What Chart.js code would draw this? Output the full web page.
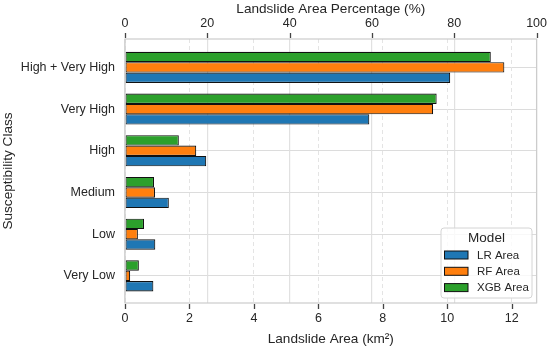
<!DOCTYPE html>
<html>
<head>
<meta charset="utf-8">
<script src="https://cdn.jsdelivr.net/npm/chart.js@4.4.1/dist/chart.umd.min.js"></script>
<style>
  html, body { margin: 0; padding: 0; background: #fff; }
  #wrap { width: 550px; height: 349px; }
</style>
</head>
<body>
<div id="wrap"><canvas id="chart" width="550" height="349"></canvas></div>
<script>
// data (km²)
const categories = ['High + Very High', 'Very High', 'High', 'Medium', 'Low', 'Very Low'];
const lrArea  = [10.09, 7.58, 2.52, 1.36, 0.94, 0.88];
const rfArea  = [11.77, 9.56, 2.21, 0.93, 0.40, 0.16];
const xgbArea = [11.35, 9.67, 1.67, 0.90, 0.59, 0.43];
const areaTicks = [0, 2, 4, 6, 8, 10, 12];
const pctTicks  = [0, 20, 40, 60, 80, 100];
const legendTitle = 'Model';

const FONT = "'Liberation Sans', Arial, sans-serif";
const TEXT = '#262626';

const toPoints = arr => arr.map((v, i) => ({ x: v, y: i }));

const seriesStyle = {
  'LR Area':  '#1f77b4',
  'RF Area':  '#ff7f0e',
  'XGB Area': '#2ca02c'
};

// datasets are drawn top-to-bottom inside each group, so XGB goes first
const datasets = [
  { label: 'XGB Area', data: toPoints(xgbArea) },
  { label: 'RF Area',  data: toPoints(rfArea) },
  { label: 'LR Area',  data: toPoints(lrArea) }
].map(d => Object.assign(d, {
  backgroundColor: seriesStyle[d.label],
  borderColor: '#111111',
  borderWidth: 1.1,
  borderSkipped: false,
  categoryPercentage: 0.745,
  barPercentage: 1.0
}));

// draws the outward tick marks of the two x axes
function drawTickMarks(ctx, scale, values, y0, y1) {
  ctx.beginPath();
  values.forEach(v => {
    const px = Math.round(scale.getPixelForValue(v)) + 0.5;
    ctx.moveTo(px, y0);
    ctx.lineTo(px, y1);
  });
  ctx.stroke();
}

// frame round the plot + tick marks + legend inside the plot
const framePlugin = {
  id: 'frame',
  afterDraw(chart) {
    const { ctx, chartArea: a } = chart;
    ctx.save();
    ctx.strokeStyle = '#cccccc';
    ctx.lineWidth = 1.2;
    ctx.strokeRect(a.left, a.top, a.right - a.left, a.bottom - a.top);

    ctx.strokeStyle = '#444';
    ctx.lineWidth = 1.3;
    drawTickMarks(ctx, chart.scales.x, areaTicks, a.bottom + 1, a.bottom + 6);
    drawTickMarks(ctx, chart.scales.x2, pctTicks, a.top - 6, a.top - 1);

    // legend box
    const bx = 441, by = 228, bw = 91, bh = 70;
    ctx.beginPath();
    ctx.roundRect(bx, by, bw, bh, 3);
    ctx.fillStyle = 'rgba(255,255,255,0.8)';
    ctx.fill();
    ctx.strokeStyle = '#d4d4d4';
    ctx.lineWidth = 1;
    ctx.stroke();

    ctx.fillStyle = TEXT;
    ctx.font = '13.5px ' + FONT;
    ctx.textAlign = 'center';
    ctx.textBaseline = 'middle';
    ctx.fillText(legendTitle, bx + bw / 2, by + 10);

    const order = chart.data.datasets.slice().reverse();
    order.forEach((ds, i) => {
      const cy = by + 27 + i * 16.3;
      ctx.fillStyle = ds.backgroundColor;
      ctx.fillRect(bx + 3.5, cy - 4, 23.5, 8);
      ctx.strokeStyle = '#111111';
      ctx.strokeRect(bx + 3.5, cy - 4, 23.5, 8);
      ctx.fillStyle = TEXT;
      ctx.font = '11.5px ' + FONT;
      ctx.textAlign = 'left';
      ctx.fillText(ds.label, bx + 36, cy + 0.5);
    });
    ctx.restore();
  }
};

const ctx = document.getElementById('chart');
new Chart(ctx, {
  type: 'bar',
  data: { datasets },
  options: {
    indexAxis: 'y',
    responsive: false,
    maintainAspectRatio: false,
    animation: false,
    layout: { padding: { left: 0, right: 12.5, top: 0, bottom: 0 } },
    plugins: {
      legend: { display: false },
      tooltip: { enabled: false }
    },
    scales: {
      y: {
        type: 'linear',
        reverse: true,
        offset: false,
        min: -0.68,
        max: 5.65,
        afterBuildTicks: s => { s.ticks = categories.map((c, i) => ({ value: i })); },
        afterFit: s => { s.width = 125; },
        ticks: {
          callback: v => categories[v],
          color: TEXT,
          font: { family: FONT, size: 12.5 },
          padding: 10
        },
        grid: { color: '#dcdcdc', lineWidth: 1, drawTicks: false, offset: false },
        border: { display: false },
        title: {
          display: true,
          text: 'Susceptibility Class',
          color: TEXT,
          font: { family: FONT, size: 13.6 },
          padding: { top: 0, bottom: 0 }
        }
      },
      x: {
        type: 'linear',
        position: 'bottom',
        min: 0,
        max: 12.77,
        afterBuildTicks: s => { s.ticks = areaTicks.map(v => ({ value: v })); },
        afterFit: s => { s.height = 46; },
        ticks: {
          color: TEXT,
          font: { family: FONT, size: 12.5 },
          padding: 3
        },
        grid: {
          color: '#e4e4e4',
          lineWidth: 1,
          tickLength: 5,
          tickColor: 'rgba(0,0,0,0)'
        },
        border: { display: false, dash: [4, 3] },
        title: {
          display: true,
          text: 'Landslide Area (km²)',
          color: TEXT,
          font: { family: FONT, size: 13.6 },
          padding: { top: 0, bottom: 2 }
        }
      },
      x2: {
        type: 'linear',
        axis: 'x',
        position: 'top',
        min: 0,
        max: 100,
        z: 1,
        afterBuildTicks: s => { s.ticks = pctTicks.map(v => ({ value: v })); },
        afterFit: s => { s.height = 39; },
        ticks: {
          color: TEXT,
          font: { family: FONT, size: 12.5 },
          padding: 3
        },
        grid: {
          color: 'rgba(222,222,222,0.9)',
          lineWidth: 1.2,
          tickLength: 5,
          tickColor: 'rgba(0,0,0,0)'
        },
        border: { display: false },
        title: {
          display: true,
          text: 'Landslide Area Percentage (%)',
          color: TEXT,
          font: { family: FONT, size: 13.6 },
          padding: { top: 1, bottom: 0 }
        }
      }
    }
  },
  plugins: [framePlugin]
});
</script>
</body>
</html>
